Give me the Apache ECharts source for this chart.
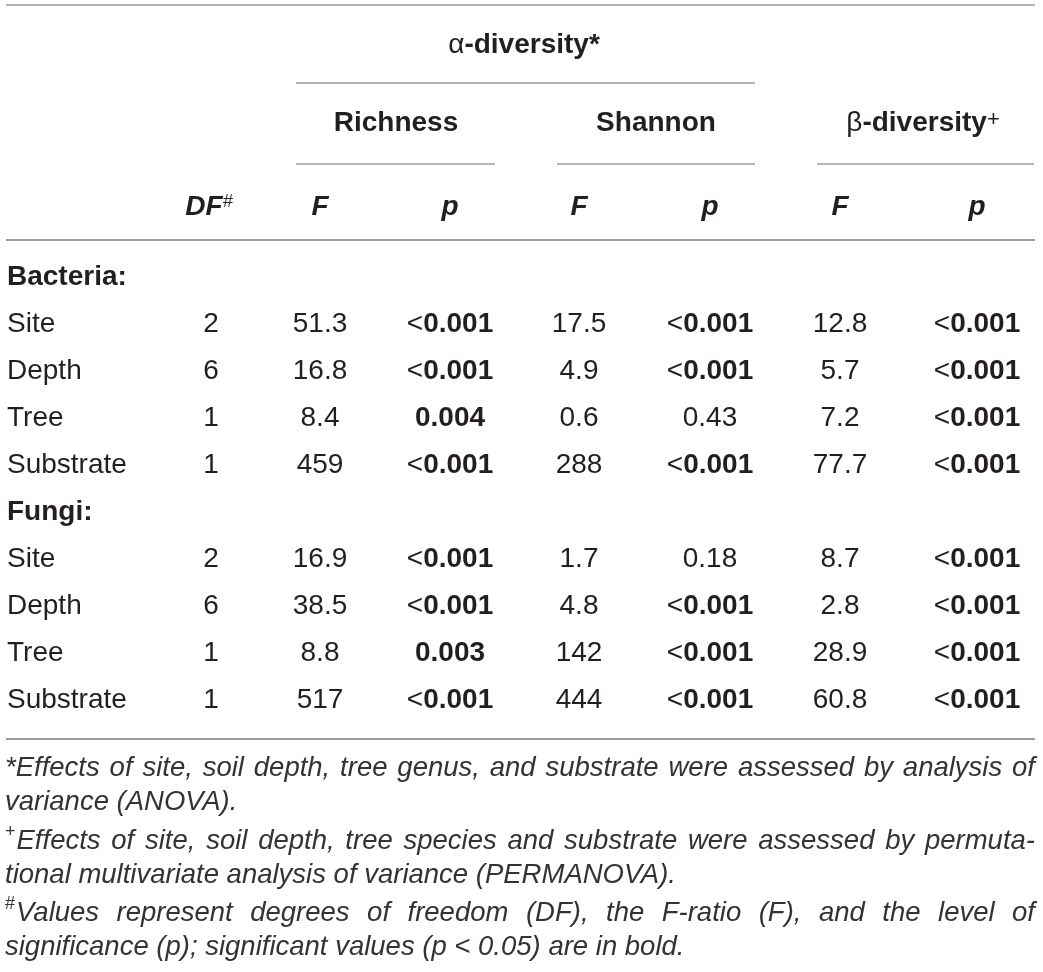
<!DOCTYPE html>
<html>
<head>
<meta charset="utf-8">
<script src="https://cdn.jsdelivr.net/npm/echarts@6.0.0/dist/echarts.min.js"></script>
<style>
  html, body { margin: 0; padding: 0; background: #fff; }
  #main { width: 1043px; height: 972px; }
</style>
</head>
<body>
<div id="main"></div>
<script>
// table content
const rowLabels = ['Bacteria:', 'Site', 'Depth', 'Tree', 'Substrate',
                   'Fungi:', 'Site', 'Depth', 'Tree', 'Substrate'];
const groupRows = [0, 5];
const df     = [null, 2, 6, 1, 1, null, 2, 6, 1, 1];
const richF  = [null, '51.3', '16.8', '8.4', '459', null, '16.9', '38.5', '8.8', '517'];
const richP  = [null, '<0.001', '<0.001', '0.004', '<0.001', null, '<0.001', '<0.001', '0.003', '<0.001'];
const shanF  = [null, '17.5', '4.9', '0.6', '288', null, '1.7', '4.8', '142', '444'];
const shanP  = [null, '<0.001', '<0.001', '0.43', '<0.001', null, '0.18', '<0.001', '<0.001', '<0.001'];
const betaF  = [null, '12.8', '5.7', '7.2', '77.7', null, '8.7', '2.8', '28.9', '60.8'];
const betaP  = [null, '<0.001', '<0.001', '<0.001', '<0.001', null, '<0.001', '<0.001', '<0.001', '<0.001'];
const colHeads = ['DF', 'F', 'p', 'F', 'p', 'F', 'p'];
const groupHeads = ['Richness', 'Shannon'];
const footnotes = [
  { mark: '', lines: ['*Effects of site, soil depth, tree genus, and substrate were assessed by analysis of',
                      'variance (ANOVA).'] },
  { mark: '+', lines: ['Effects of site, soil depth, tree species and substrate were assessed by permuta-',
                       'tional multivariate analysis of variance (PERMANOVA).'] },
  { mark: '#', lines: ['Values represent degrees of freedom (DF), the F-ratio (F), and the level of',
                       'significance (p); significant values (p < 0.05) are in bold.'] }
];

// layout
const FONT = '"Liberation Sans", Arial, sans-serif';
const INK = '#231f20';
const FOOT_INK = '#333';
const RULE = '#9c9c9c';
const colX = [211, 320, 450, 579, 710, 840, 977];
const footY = [768, 802, 841, 875, 913, 947];
const FOOT_SIZE = 27.5;

const columns = [df, richF, richP, shanF, shanP, betaF, betaP];
const isP = [false, false, true, false, true, false, true];

function fmtCell(v, p) {
  const s = String(v);
  if (!p) return '{n|' + s + '}';
  if (s[0] === '<') return '{n|<}{b|' + s.slice(1) + '}';
  return parseFloat(s) < 0.05 ? '{b|' + s + '}' : '{n|' + s + '}';
}

const cellRich = {
  n: { fontFamily: FONT, fontSize: 28, color: INK },
  b: { fontFamily: FONT, fontSize: 28, fontWeight: 'bold', color: INK }
};

const series = columns.map(function (col, c) {
  const data = [];
  col.forEach(function (v, r) {
    if (v !== null) data.push([colX[c], r, fmtCell(v, isP[c])]);
  });
  return {
    type: 'scatter',
    symbolSize: 0,
    silent: true,
    itemStyle: { opacity: 1 },
    data: data,
    label: {
      show: true,
      position: 'inside',
      color: INK,
      opacity: 1,
      fontFamily: FONT,
      fontSize: 28,
      formatter: function (p) { return p.data[2]; },
      rich: cellRich
    }
  };
});

// header & rules
function txt(x, y, text, rich) {
  return {
    type: 'text', x: x, y: y, silent: true,
    style: {
      text: text, rich: rich, fill: INK,
      font: '28px ' + FONT,
      align: 'center', verticalAlign: 'middle',
      textAlign: 'center', textVerticalAlign: 'middle'
    }
  };
}
function rule(x1, x2, y, w) {
  return { type: 'line', silent: true, shape: { x1: x1, y1: y, x2: x2, y2: y },
           style: { stroke: RULE, lineWidth: w || 1.5 } };
}

const headRich = {
  g: { fontFamily: FONT, fontSize: 28, color: INK },
  b: { fontFamily: FONT, fontSize: 28, fontWeight: 'bold', color: INK },
  bi: { fontFamily: FONT, fontSize: 28, fontWeight: 'bold', fontStyle: 'italic', color: INK },
  sup: { fontFamily: FONT, fontSize: 22, color: INK, verticalAlign: 'top', lineHeight: 16 },
  supi: { fontFamily: FONT, fontSize: 18, fontStyle: 'italic', color: INK, verticalAlign: 'top', lineHeight: 14 }
};

const graphics = [
  rule(6, 1035, 5, 1.5),
  rule(296, 755, 83),
  rule(296, 495, 164),
  rule(557, 755, 164),
  rule(817, 1034, 164),
  rule(6, 1035, 240, 2),
  rule(6, 1035, 739, 2),
  txt(524, 45, '{g|\u03b1}{b|-diversity*}', headRich),
  txt(396, 123, '{b|' + groupHeads[0] + '}', headRich),
  txt(656, 123, '{b|' + groupHeads[1] + '}', headRich),
  txt(923, 123, '{g|\u03b2}{b|-diversity}{sup|+}', headRich),
  txt(colX[0] - 2, 207, '{bi|' + colHeads[0] + '}{supi|#}', headRich)
];
for (let c = 1; c < colHeads.length; c++) {
  graphics.push(txt(colX[c], 207, '{bi|' + colHeads[c] + '}', headRich));
}

// footnotes, justified like the printed table
const cv = document.createElement('canvas').getContext('2d');
const footFont = 'italic ' + FOOT_SIZE + 'px ' + FONT;
const markFont = '18px ' + FONT;
function measure(s, f) { cv.font = f; return cv.measureText(s).width; }

let li = 0;
footnotes.forEach(function (fn) {
  fn.lines.forEach(function (line, k) {
    const y = footY[li++];
    let x0 = 5;
    if (k === 0 && fn.mark) {
      graphics.push({ type: 'text', x: x0, y: y - 9, silent: true,
        style: { text: fn.mark, font: markFont, fill: FOOT_INK,
                 align: 'left', verticalAlign: 'middle', textAlign: 'left', textVerticalAlign: 'middle' } });
      x0 += measure(fn.mark, markFont) + 1;
    }
    const words = line.split(' ');
    const widths = words.map(function (w) { return measure(w, footFont); });
    const total = widths.reduce(function (a, b) { return a + b; }, 0);
    const justify = k < fn.lines.length - 1;
    const gap = justify ? (1035 - x0 - total) / (words.length - 1) : measure(' ', footFont);
    let x = x0;
    words.forEach(function (w, i) {
      graphics.push({ type: 'text', x: x, y: y, silent: true,
        style: { text: w, font: footFont, fill: FOOT_INK,
                 align: 'left', verticalAlign: 'middle', textAlign: 'left', textVerticalAlign: 'middle' } });
      x += widths[i] + gap;
    });
  });
});

const chart = echarts.init(document.getElementById('main'));
chart.setOption({
  animation: false,
  grid: { left: 0, right: 0, top: 253.5, height: 470 },
  xAxis: { type: 'value', min: 0, max: 1043, show: false },
  yAxis: {
    type: 'category',
    inverse: true,
    data: rowLabels,
    axisLine: { show: false },
    axisTick: { show: false },
    splitLine: { show: false },
    axisLabel: {
      inside: true,
      interval: 0,
      margin: 7,
      color: INK,
      fontFamily: FONT,
      fontSize: 28,
      formatter: function (v, i) {
        return groupRows.indexOf(i) >= 0 ? '{g|' + v + '}' : '{n|' + v + '}';
      },
      rich: {
        n: { fontFamily: FONT, fontSize: 28, color: INK },
        g: { fontFamily: FONT, fontSize: 28, fontWeight: 'bold', color: INK }
      }
    }
  },
  series: series,
  graphic: graphics
});
</script>
</body>
</html>
